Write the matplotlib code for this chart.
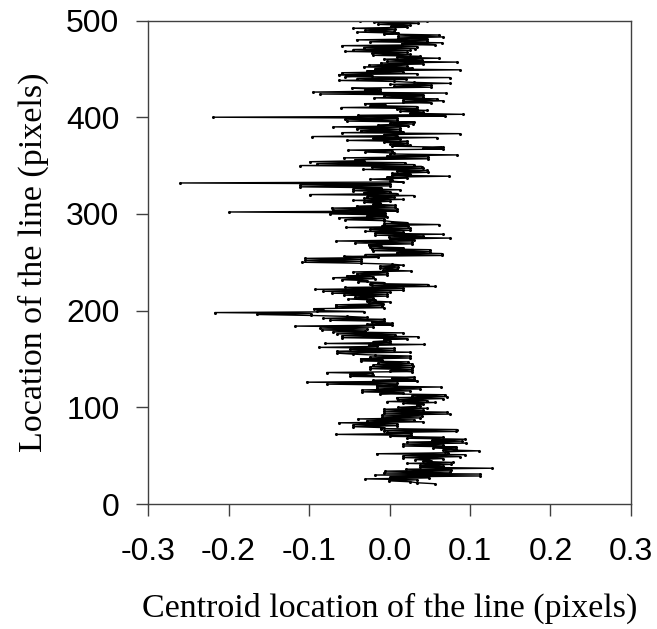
import numpy as np
import matplotlib.pyplot as plt

# centroid offsets read top-down, one value per row starting at row 500
x_500_439 = [-0.037, 0.047, -0.019, 0.036, -0.014, 0.026, 0.002, 0.022, -0.045, 0.007,
             -0.030, 0.005, -0.040, 0.010, -0.007, 0.062, 0.011, 0.067, 0.011, 0.046,
             -0.041, 0.046, -0.024, 0.065, 0.015, 0.056, -0.059, 0.034, -0.032, 0.032,
             -0.045, 0.026, -0.055, 0.022, -0.022, 0.026, -0.021, 0.038, 0.009, 0.062,
             -0.007, 0.040, -0.003, 0.084, -0.011, 0.042, -0.025, 0.022, -0.032, 0.028,
             -0.018, 0.088, -0.028, 0.017, -0.059, 0.034, -0.063, -0.022, -0.055, 0.075,
             -0.040, 0.020]
x_438_377 = [-0.063, 0.005, 0.030, 0.075, 0.001, 0.051, 0.006, 0.051, -0.047, -0.012,
             -0.031, -0.012, -0.095, 0.070, -0.086, 0.042, -0.007, 0.042, -0.019, 0.059,
             0.017, 0.067, 0.017, 0.051, -0.031, -0.005, -0.024, 0.034, -0.060, 0.034,
             0.009, 0.047, 0.013, 0.042, 0.026, 0.091, -0.039, 0.069, -0.219, 0.009,
             -0.055, 0.009, -0.053, 0.030, 0.001, 0.029, -0.014, 0.023, -0.070, 0.013,
             -0.041, 0.013, -0.036, 0.017, -0.059, 0.087, -0.007, 0.009, -0.096, 0.059,
             -0.020, 0.013]
x_376_315 = [-0.053, 0.022, -0.007, 0.022, 0.001, 0.026, 0.003, 0.066, 0.042, 0.066,
             -0.051, 0.003, -0.030, 0.005, 0.001, 0.084, -0.003, 0.048, -0.057, 0.048,
             -0.043, -0.032, -0.099, 0.019, -0.090, 0.030, -0.111, 0.040, -0.022, 0.042,
             -0.033, 0.047, 0.009, 0.048, 0.003, 0.026, 0.003, 0.074, -0.003, 0.022,
             -0.024, 0.003, 0.001, 0.017, -0.260, 0.001, -0.111, 0.001, -0.111, -0.010,
             -0.045, 0.013, -0.045, 0.001, -0.032, 0.009, -0.099, 0.030, -0.028, 0.005,
             -0.032, 0.017]
x_314_253 = [-0.045, 0.001, -0.032, -0.012, -0.020, 0.007, -0.041, 0.007, -0.072, 0.009,
             -0.070, 0.009, -0.199, -0.005, -0.074, -0.005, -0.028, -0.003, -0.063, -0.007,
             -0.055, -0.007, 0.003, 0.022, -0.007, 0.062, -0.009, 0.023, -0.054, 0.026,
             -0.024, 0.026, -0.030, 0.017, -0.018, 0.067, -0.018, 0.042, -0.001, 0.075,
             0.001, 0.030, -0.066, 0.028, -0.043, 0.028, -0.026, -0.010, -0.024, 0.017,
             -0.022, 0.050, -0.020, 0.050, 0.009, 0.065, -0.030, 0.065, -0.056, -0.014,
             -0.105, -0.036]
x_252_191 = [-0.105, -0.036, -0.109, -0.036, 0.003, 0.017, -0.012, 0.011, -0.012, 0.009,
             -0.008, 0.027, -0.045, -0.003, -0.041, -0.003, -0.053, -0.020, -0.070, -0.018,
             -0.059, -0.028, -0.039, -0.007, -0.024, 0.048, -0.022, 0.057, -0.055, 0.017,
             -0.092, 0.017, -0.082, 0.001, -0.072, -0.003, -0.057, -0.003, -0.043, -0.020,
             -0.051, -0.018, -0.028, 0.001, -0.026, -0.008, -0.067, -0.009, -0.067, -0.007,
             -0.094, -0.082, -0.090, -0.032, -0.217, -0.098, -0.165, -0.098, -0.053, -0.028,
             -0.082, -0.007]
x_190_129 = [-0.074, -0.007, -0.022, 0.003, -0.028, 0.003, -0.117, -0.020, -0.086, -0.028,
             -0.084, -0.030, -0.070, 0.017, -0.065, 0.007, -0.059, 0.036, -0.059, 0.022,
             -0.007, 0.001, -0.020, 0.001, -0.080, 0.043, -0.026, -0.016, -0.088, 0.005,
             -0.049, 0.005, -0.065, 0.026, -0.065, -0.045, -0.018, 0.026, -0.024, 0.026,
             -0.036, -0.009, -0.036, 0.023, -0.014, 0.028, -0.020, 0.029, -0.024, 0.028,
             -0.024, 0.028, 0.001, 0.028, -0.078, -0.022, -0.049, -0.020, -0.049, 0.030,
             0.003, 0.030]
x_128_67 = [-0.020, 0.034, -0.103, 0.009, -0.078, 0.008, -0.016, 0.064, -0.016, 0.038,
            -0.034, 0.026, -0.034, 0.017, -0.012, 0.069, 0.028, 0.071, 0.009, 0.066,
            0.011, 0.046, -0.003, 0.057, 0.017, 0.042, 0.034, 0.038, 0.011, 0.046,
            -0.007, 0.042, -0.007, 0.071, -0.007, 0.075, -0.009, 0.040, -0.009, 0.038,
            -0.039, 0.030, -0.028, 0.042, -0.063, 0.009, -0.045, 0.009, -0.045, -0.007,
            -0.011, 0.084, -0.007, 0.082, -0.003, 0.027, -0.067, 0.027, 0.001, 0.067,
            0.022, 0.094]
x_66_21 = [0.053, 0.090, 0.022, 0.095, 0.017, 0.067, 0.017, 0.082, 0.054, 0.083,
           0.067, 0.111, 0.069, 0.073, -0.016, 0.094, 0.017, 0.088, 0.017, 0.067,
           0.032, 0.051, 0.042, 0.079, 0.022, 0.077, 0.038, 0.067, 0.038, 0.127,
           0.021, 0.077, -0.005, 0.075, -0.007, 0.113, -0.018, 0.113, 0.001, 0.049,
           -0.030, 0.034, -0.001, 0.026, 0.034, 0.056]

top_row = 500

centroid = np.array(x_500_439 + x_438_377 + x_376_315 + x_314_253 +
                    x_252_191 + x_190_129 + x_128_67 + x_66_21)
rows = top_row - np.arange(len(centroid))

fig = plt.figure(figsize=(6.57, 6.29), dpi=100)
ax = fig.add_axes([0.2253, 0.1987, 0.7351, 0.7687])

ax.plot(centroid, rows, color='black', lw=1.0, marker='.', ms=2.4)

ax.set_xlim(-0.3, 0.3)
ax.set_ylim(0, 500)
ax.set_xticks([-0.3, -0.2, -0.1, 0.0, 0.1, 0.2, 0.3])
ax.set_xticklabels(['-0.3', '-0.2', '-0.1', '0.0', '0.1', '0.2', '0.3'])
ax.set_yticks([0, 100, 200, 300, 400, 500])

for s in ax.spines.values():
    s.set_color('#404040')
    s.set_linewidth(1.0)
ax.tick_params(direction='out', length=8.6, width=1, color='#404040',
               labelsize=23, top=False, right=False)
ax.tick_params(axis='y', pad=12)
ax.tick_params(axis='x', pad=15)
for lab in ax.get_xticklabels() + ax.get_yticklabels():
    lab.set_family('Liberation Sans')

ax.set_xlabel('Centroid location of the line (pixels)', family='Liberation Serif',
              fontsize=24.5, labelpad=19)
ax.set_ylabel('Location of the line (pixels)', family='Liberation Serif',
              fontsize=24.5, labelpad=12.5)

fig.savefig('out.png', dpi=100)
